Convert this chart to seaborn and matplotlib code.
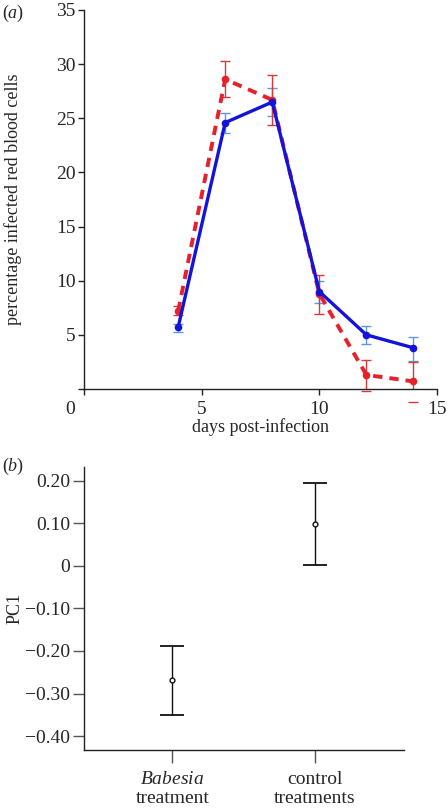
import numpy as np
import pandas as pd
import matplotlib
matplotlib.use("Agg")
import matplotlib.pyplot as plt
import matplotlib.transforms as mtransforms
import seaborn as sns

# ---- data panel (a)
days = [4, 6, 8, 10, 12, 14]
blue_mean = [5.7, 24.6, 26.5, 9.0, 5.0, 3.8]
blue_lo = [5.3, 23.6, 25.2, 7.9, 4.2, 2.6]
blue_hi = [6.0, 25.5, 27.8, 10.0, 5.8, 4.8]
red_mean = [7.2, 28.6, 26.7, 8.8, 1.3, 0.7]
red_lo = [6.8, 27.0, 24.4, 6.9, -0.2, -1.2]
red_hi = [7.7, 30.3, 29.0, 10.5, 2.7, 2.5]
a_yticks = [0, 5, 10, 15, 20, 25, 30, 35]
a_yticklabels = ["", "5", "10", "15", "20", "25", "30", "35"]
a_xticks = [0, 5, 10, 15]

# ---- data panel (b)
groups = ["Babesia", "control"]
group_labels = ["$\\it{Babesia}$\ntreatment", "control\ntreatments"]
pc1_mean = [-0.269, 0.098]
pc1_lo = [-0.351, 0.003]
pc1_hi = [-0.188, 0.194]
b_yticks = [0.20, 0.10, 0, -0.10, -0.20, -0.30, -0.40]
b_yticklabels = ["0.20", "0.10", "0", "\u22120.10", "\u22120.20", "\u22120.30", "\u22120.40"]

sns.set_style("ticks")
plt.rcParams["font.family"] = ["Liberation Serif", "DejaVu Serif"]
plt.rcParams["mathtext.fontset"] = "custom"
plt.rcParams["mathtext.it"] = "Liberation Serif:italic"
plt.rcParams["mathtext.rm"] = "Liberation Serif"

fig = plt.figure(figsize=(4.48, 8.08), dpi=100)
W, H = 448, 808
axa = fig.add_axes([84 / W, 1 - 389 / H, (437 - 84) / W, (389 - 10) / H])
axb = fig.add_axes([84 / W, 1 - 750 / H, (404.3 - 84) / W, (750 - 466.7) / H])

RED = "#e8202a"
BLUE = "#1414d8"
RED_ERR = "#d83838"
BLUE_ERR = "#5a9ae0"
AXC = "#222222"
TFS = 14
LFS = 13

df = pd.DataFrame({
    "day": days * 2,
    "pct": blue_mean + red_mean,
    "grp": ["blue"] * len(days) + ["red"] * len(days),
})

# error bars
bm, bl, bh = map(np.array, (blue_mean, blue_lo, blue_hi))
rm, rl, rh = map(np.array, (red_mean, red_lo, red_hi))
axa.errorbar(days, bm, yerr=[bm - bl, bh - bm], fmt="none", ecolor=BLUE_ERR,
             elinewidth=1.0, capsize=3.5, capthick=1.0, zorder=2)
eb = axa.errorbar(days, rm, yerr=[rm - rl, rh - rm], fmt="none", ecolor=RED_ERR,
                  elinewidth=1.0, capsize=3.5, capthick=1.0, zorder=2)
for art in eb.lines[1]:
    art.set_clip_on(False)

sns.lineplot(data=df[df.grp == "red"], x="day", y="pct", ax=axa, color=RED,
             linewidth=2.8, dashes=False, marker="o", markersize=5.5,
             markeredgewidth=0, zorder=3)
sns.lineplot(data=df[df.grp == "blue"], x="day", y="pct", ax=axa, color=BLUE,
             linewidth=2.4, marker="o", markersize=5.5, markeredgewidth=0, zorder=4)
red_line = axa.get_lines()[-2]
red_line.set_linestyle((0, (2.4, 1.8)))

axa.set_xlim(0, 15)
axa.set_ylim(0, 35)
axa.set_yticks(a_yticks)
axa.set_yticklabels(a_yticklabels)
axa.set_xticks(a_xticks)
axa.set_xticklabels([str(t) for t in a_xticks])
axa.set_xlabel("days post-infection", fontsize=LFS, labelpad=0)
axa.set_ylabel("percentage infected red blood cells", fontsize=LFS)
axa.yaxis.set_label_coords(-0.176, 0.5)
axa.tick_params(axis="both", labelsize=TFS, color=AXC, length=4, width=1)
axa.tick_params(axis="x", pad=5)
axa.tick_params(axis="y", pad=2)
for s in ["top", "right"]:
    axa.spines[s].set_visible(False)
for s in ["left", "bottom"]:
    axa.spines[s].set_color(AXC)
    axa.spines[s].set_linewidth(1.0)
lab0 = axa.get_xticklabels()[0]
lab0.set_transform(lab0.get_transform() + mtransforms.ScaledTranslation(-0.14, 0, fig.dpi_scale_trans))
fig.text(2 / W, 1 - 13 / H, "($a$)", fontsize=LFS, va="center", ha="left")

# ---- panel (b)
pm, pl, ph = map(np.array, (pc1_mean, pc1_lo, pc1_hi))
xpos = np.arange(len(groups))
axb.errorbar(xpos, pm, yerr=[pm - pl, ph - pm], fmt="none", ecolor="#111111",
             elinewidth=1.0, capsize=8.5, capthick=1.3)
dfb = pd.DataFrame({"x": xpos, "pc1": pc1_mean})
sns.scatterplot(data=dfb, x="x", y="pc1", ax=axb, marker="o", s=12,
                facecolor="white", edgecolor="#111111", linewidth=1.0, zorder=5)
axb.set_xlim(-0.62, 1.63)
axb.set_ylim(-0.4326, 0.233)
axb.set_yticks(b_yticks)
axb.set_yticklabels(b_yticklabels)
axb.set_xticks(xpos)
axb.set_xticklabels(group_labels, linespacing=1.15)
axb.set_xlabel("")
axb.set_ylabel("PC1", fontsize=LFS)
axb.yaxis.set_label_coords(-0.19, 0.5)
axb.tick_params(axis="both", labelsize=TFS, color="#555555", width=1)
axb.tick_params(axis="y", length=8, pad=2)
axb.tick_params(axis="x", length=9, pad=6)
for s in ["top", "right"]:
    axb.spines[s].set_visible(False)
for s in ["left", "bottom"]:
    axb.spines[s].set_color(AXC)
    axb.spines[s].set_linewidth(1.0)
fig.text(2 / W, 1 - 466 / H, "($b$)", fontsize=LFS, va="center", ha="left")

fig.savefig("out.png", dpi=100)
